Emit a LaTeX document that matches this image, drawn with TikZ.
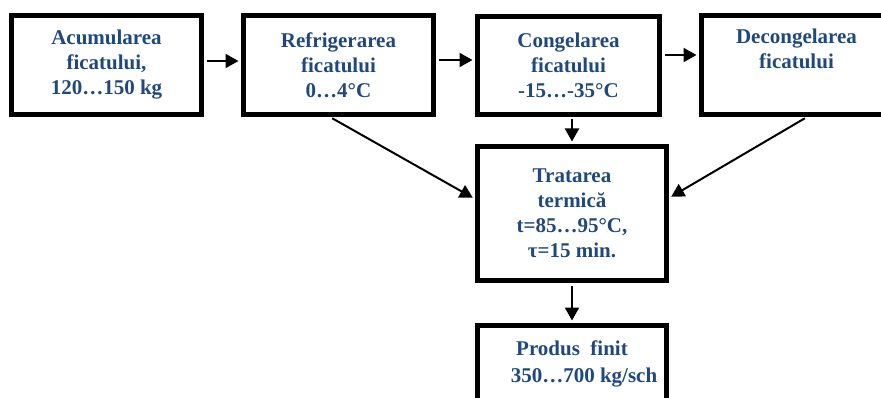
\documentclass[tikz,border=0pt]{standalone}
\usepackage{fontspec}
\setmainfont{Liberation Serif}
\usetikzlibrary{arrows.meta}
\definecolor{txtblue}{RGB}{31,73,125}
\begin{document}
\begin{tikzpicture}[x=1pt,y=-1pt,
  box/.style={draw, line width=5pt, inner sep=0pt, align=center,
    font=\fontsize{21}{25}\selectfont\bfseries, text=txtblue},
  arr/.style={-{Triangle[length=13pt,width=14pt]}, line width=2pt,
    shorten >=2.5pt, shorten <=2.5pt}]
\clip (0,0) rectangle (881,398);
\node[box, minimum width=190pt, minimum height=99pt] (b1) at (106.5,65)
  {Acumularea\\ficatului,\\120…150 kg};
\node[box, minimum width=190pt, minimum height=99pt] (b2) at (338.5,65)
  {Refrigerarea\\ficatului\\0…4°C};
\node[box, minimum width=182pt, minimum height=98pt] (b3) at (568.5,65.5)
  {Congelarea\\ficatului\\-15…-35°C};
\node[box, minimum width=190pt, minimum height=99pt] (b4) at (796.5,65)
  {Decongelarea\\ficatului\\\strut};
\node[box, minimum width=189pt, minimum height=134pt] (b5) at (572,213.5)
  {Tratarea\\termică\\t=85…95°C,\\τ=15 min.};
\node[box, minimum width=189pt, minimum height=76pt,
  font=\fontsize{21}{27}\selectfont\bfseries] (b6) at (572,363.5)
  {Produs~~finit\\\hspace*{24pt}350…700 kg/sch};
\draw[arr] ([yshift=4pt]b1.east) -- ([yshift=4pt]b1.east -| b2.west);
\draw[arr] ([yshift=5pt]b2.east) -- ([yshift=5pt]b2.east -| b3.west);
\draw[arr] ([yshift=10.5pt]b3.east) -- ([yshift=10.5pt]b3.east -| b4.west);
\draw[arr] (b5.north |- b3.south) -- (b5.north);
\draw[arr] (b5.south) -- (b6.north);
\draw[arr] ([xshift=-8.5pt]b2.south) -- ([yshift=14.5pt]b5.west);
\draw[arr] ([xshift=10.5pt]b4.south) -- ([yshift=15.5pt]b5.east);
\end{tikzpicture}
\end{document}
